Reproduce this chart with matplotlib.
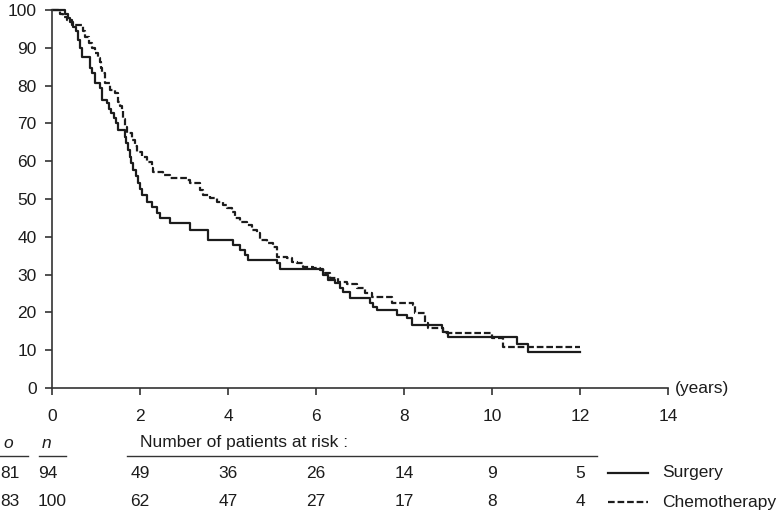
import numpy as np
import matplotlib.pyplot as plt
from matplotlib.lines import Line2D

plt.rcParams['font.family'] = ['Liberation Sans', 'DejaVu Sans']

# Survival (%) step curves: time (years) where each level starts
surg_t = [0, 0.30, 0.36, 0.42, 0.48, 0.55, 0.60, 0.64, 0.68, 0.86, 0.90, 0.98, 1.09, 1.14,
          1.25, 1.30, 1.34, 1.40, 1.45, 1.50, 1.66, 1.68, 1.72, 1.77, 1.80, 1.84, 1.90, 1.95,
          2.00, 2.05, 2.16, 2.27, 2.39, 2.45, 2.68, 3.14, 3.55, 4.11, 4.27, 4.39, 4.45, 5.11,
          5.18, 6.16, 6.27, 6.43, 6.55, 6.61, 6.77, 7.23, 7.30, 7.39, 7.84, 8.07, 8.18, 8.86,
          8.89, 9.00, 10.57, 10.82, 12.0]
surg_s = [100, 98.9, 97.8, 96.7, 95.5, 94.4, 92.1, 90.0, 87.6, 84.6, 83.3, 80.7, 79.4, 76.2,
          75.4, 73.9, 72.8, 71.3, 70.1, 68.3, 66.5, 64.8, 63.0, 61.1, 59.4, 57.7, 56.0, 54.2,
          52.6, 51.1, 49.2, 47.9, 46.3, 45.0, 43.6, 41.8, 39.2, 37.8, 36.5, 35.2, 33.9, 33.0,
          31.5, 29.9, 28.6, 27.8, 26.5, 25.4, 23.8, 22.5, 21.5, 20.6, 19.3, 18.5, 16.7, 15.9,
          14.8, 13.5, 11.6, 9.5, 9.5]

chemo_t = [0, 0.18, 0.25, 0.35, 0.45, 0.70, 0.75, 0.85, 0.91, 0.98, 1.05, 1.09, 1.12, 1.14,
           1.20, 1.32, 1.43, 1.50, 1.55, 1.59, 1.62, 1.66, 1.70, 1.82, 1.88, 1.93, 2.05, 2.16,
           2.27, 2.30, 2.52, 2.68, 3.07, 3.14, 3.36, 3.43, 3.59, 3.75, 3.89, 3.98, 4.09, 4.16,
           4.27, 4.43, 4.55, 4.66, 4.73, 4.89, 5.02, 5.11, 5.34, 5.45, 5.57, 5.70, 5.93, 6.09,
           6.20, 6.32, 6.50, 6.70, 6.93, 7.11, 7.27, 7.73, 8.20, 8.25, 8.48, 8.55, 8.89, 10.0,
           10.25, 12.0]
chemo_s = [100, 99.0, 98.1, 97.3, 96.0, 94.5, 92.9, 91.4, 89.9, 88.6, 87.3, 86.2, 84.7, 83.3,
           80.7, 78.8, 78.0, 75.7, 74.5, 73.5, 71.2, 69.0, 67.5, 65.6, 64.0, 62.4, 61.1, 59.8,
           58.2, 57.1, 56.3, 55.6, 55.0, 54.2, 52.4, 51.1, 50.3, 49.2, 48.4, 47.6, 46.6, 45.0,
           43.9, 43.1, 41.8, 41.0, 39.2, 38.4, 37.3, 34.7, 34.4, 33.3, 33.1, 32.0, 31.7, 31.2,
           30.4, 29.1, 28.0, 27.5, 26.5, 25.1, 24.1, 22.5, 21.9, 19.8, 17.2, 15.9, 14.6, 13.2,
           10.8, 10.8]

# Risk table
risk_times = [2, 4, 6, 8, 10, 12]
surg_risk = [49, 36, 26, 14, 9, 5]
chemo_risk = [62, 47, 27, 17, 8, 4]
surg_on = ("81", "94")
chemo_on = ("83", "100")
groups = ["Surgery", "Chemotherapy"]

W, H = 780, 512
fig = plt.figure(figsize=(7.8, 5.12), dpi=100)

def fx(x):
    return x / W

def fy(y):
    return 1 - y / H

# axes box: x 0..14 -> px 52..668, y 0..100 -> px 388..10
ax = fig.add_axes([fx(52), fy(388), fx(668) - fx(52), fy(10) - fy(388)])
ink = '#1c1c1c'
lw = 1.6
dash = (3, 1.3)
ax.plot(surg_t, surg_s, drawstyle='steps-post', color=ink, lw=lw, clip_on=False)
ax.plot(chemo_t, chemo_s, drawstyle='steps-post', color=ink, lw=lw, dashes=dash,
        clip_on=False)

ax.set_xlim(0, 14)
ax.set_ylim(0, 100)
ax.set_xticks(range(0, 15, 2))
ax.set_yticks(range(0, 101, 10))
for s in ['top', 'right']:
    ax.spines[s].set_visible(False)
for s in ['left', 'bottom']:
    ax.spines[s].set_color('#333333')
    ax.spines[s].set_linewidth(1.2)
ax.tick_params(axis='both', direction='out', length=5, width=1.2, color='#333333',
               labelsize=12.5, labelcolor=ink)
ax.tick_params(axis='y', pad=6)
ax.tick_params(axis='x', pad=10)

fs = 12.5
fig.text(fx(675), fy(388), "(years)", fontsize=fs, color=ink, va='center', ha='left')

# risk table header
fig.text(fx(3), fy(443), "o", fontsize=fs, style='italic', color=ink, va='center')
fig.text(fx(42), fy(443), "n", fontsize=fs, style='italic', color=ink, va='center')
fig.text(fx(140), fy(443), "Number of patients at risk :", fontsize=fs, color=ink, va='center')
for x0, x1 in [(0, 28), (39, 66), (127, 597)]:
    fig.add_artist(Line2D([fx(x0), fx(x1)], [fy(456), fy(456)], color='#333333', lw=1.0))

rows = [(473, surg_on, surg_risk, '-'), (502, chemo_on, chemo_risk, '--')]
for (y, on, risk, ls), name in zip(rows, groups):
    fig.text(fx(0), fy(y), on[0], fontsize=fs, color=ink, va='center', ha='left')
    fig.text(fx(38), fy(y), on[1], fontsize=fs, color=ink, va='center', ha='left')
    for t, n in zip(risk_times, risk):
        xp = ax.transData.transform((t, 0))[0]
        fig.text(xp / W, fy(y), str(n), fontsize=fs, color=ink, va='center', ha='center')
    kw = dict(color=ink, lw=lw)
    if ls == '--':
        kw['dashes'] = dash
    fig.add_artist(Line2D([fx(608), fx(648)], [fy(y), fy(y)], **kw))
    fig.text(fx(662), fy(y), name, fontsize=fs, color=ink, va='center', ha='left')

fig.savefig('out.png', dpi=100)
